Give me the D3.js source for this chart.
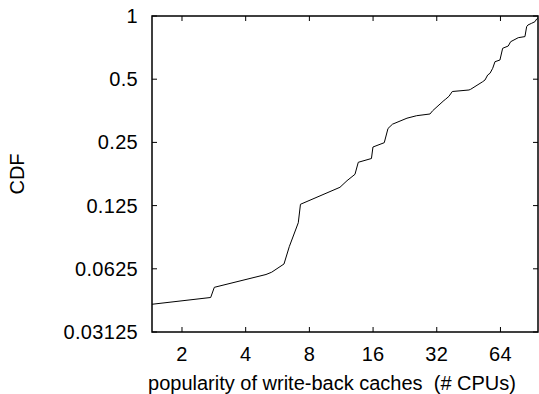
<!DOCTYPE html>
<html><head><meta charset="utf-8">
<script src="https://cdn.jsdelivr.net/npm/d3@7"></script>
<style>body{margin:0;background:#fff}svg{display:block}text{font-family:"Liberation Sans",Arial,sans-serif;fill:#000;white-space:pre}</style>
</head><body>
<svg id="c" width="539" height="394"></svg>
<script>
const xTicks = [2,4,8,16,32,64];
const yTicks = [0.03125,0.0625,0.125,0.25,0.5,1];
const yTickLabels = ["0.03125","0.0625","0.125","0.25","0.5","1"];
const cpus = [1.438,2.733,2.843,4.989,5.307,6.069,6.428,7.09,7.26,11.16,12.05,13.14,13.62,15.72,15.98,18.07,18.82,19.77,23.14,25.71,29.72,30.62,34.6,35.1,36.54,37.9,45.43,46.28,52.75,54.09,55.7,57.11,58.82,60.3,63.65,65.54,69.66,71.5,77.66,83.54,85.1,86.31,89.86,93.15,94.89,96.3];
const cdf = [0.04234,0.04563,0.05101,0.05871,0.06021,0.06588,0.07964,0.1036,0.1268,0.1528,0.1643,0.1762,0.2010,0.2095,0.2377,0.2492,0.2912,0.3053,0.3260,0.3351,0.3414,0.3540,0.3959,0.4002,0.4145,0.4369,0.4442,0.4476,0.4865,0.4956,0.5236,0.5334,0.5635,0.6057,0.6171,0.7017,0.7196,0.7543,0.7882,0.7978,0.8892,0.9060,0.9231,0.9394,0.9676,0.98];

const L=152,R=538,T=16,B=332;
const svg=d3.select("#c");
const x=d3.scaleLog().base(2).domain([1.443,96.3]).range([L,R]);
const y=d3.scaleLog().base(2).domain([0.03125,1]).range([B,T]);
const fs=20;

const tk=5;
const g=svg.append("g").attr("stroke","#000").attr("stroke-width",1);
xTicks.forEach(v=>{
  g.append("line").attr("x1",x(v)).attr("x2",x(v)).attr("y1",B).attr("y2",B-tk);
  g.append("line").attr("x1",x(v)).attr("x2",x(v)).attr("y1",T).attr("y2",T+tk);
});
yTicks.forEach(v=>{
  g.append("line").attr("x1",L).attr("x2",L+tk).attr("y1",y(v)).attr("y2",y(v));
  g.append("line").attr("x1",R).attr("x2",R-tk).attr("y1",y(v)).attr("y2",y(v));
});

const pts=cpus.map((c,i)=>[c,cdf[i]]);
svg.append("defs").append("clipPath").attr("id","cp").append("rect").attr("x",L).attr("y",T).attr("width",R-L).attr("height",B-T);
svg.append("path").datum(pts).attr("clip-path","url(#cp)")
  .attr("d",d3.line().x(d=>x(d[0])).y(d=>y(d[1])))
  .attr("fill","none").attr("stroke","#000").attr("stroke-width",1);

svg.append("rect").attr("x",L).attr("y",T).attr("width",R-L).attr("height",B-T)
  .attr("fill","none").attr("stroke","#000").attr("stroke-width",1.5);

xTicks.forEach(v=>{
  svg.append("text").attr("x",x(v)).attr("y",361).attr("text-anchor","middle").attr("font-size",fs).attr("letter-spacing",0.3).text(v);
});
yTicks.forEach((v,i)=>{
  svg.append("text").attr("x",138).attr("y",y(v)+7).attr("text-anchor","end").attr("font-size",fs).attr("letter-spacing",0.3).text(yTickLabels[i]);
});
svg.append("text").attr("x",332).attr("y",390).attr("text-anchor","middle").attr("font-size",fs).text("popularity of write-back caches  (# CPUs)");
svg.append("text").attr("transform","translate(24,174) rotate(-90)").attr("text-anchor","middle").attr("font-size",fs).text("CDF");
</script>
</body></html>
